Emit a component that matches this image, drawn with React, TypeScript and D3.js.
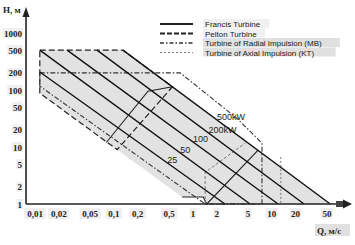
import React from "react";
import * as d3 from "d3";

// ---------- data ----------
const yTicks = [1, 2, 5, 10, 20, 50, 100, 200, 500, 1000];
const yTickLabels = ["1", "2", "5", "10", "20", "50", "100", "200", "500", "1000"];
const xTicks = [0.01, 0.02, 0.05, 0.1, 0.2, 0.5, 1, 2, 5, 10, 20, 50];
const xTickLabels = ["0,01", "0,02", "0,05", "0,1", "0,2", "0,5", "1", "2", "5", "10", "20", "50"];

// constant-power lines (kW): start / end points (Q m3/s, H m)
const powerLabels = ["25", "50", "100", "200kW", "500kW"];
const powerStartQ = [0.0115, 0.0115, 0.0255, 0.061, 0.13];
const powerStartH = [207, 500, 500, 500, 500];
const powerEndQ = [2.55, 5.3, 12, 25.6, 55];
const powerEndH = [1, 1, 1, 1, 1];
const powerLabelH = [5.9, 8.85, 13.8, 19.9, 33.6];

// shaded application field
const fieldQ = [0.0115, 0.13, 55, 1.5, 1.35, 0.73, 0.0115];
const fieldH = [500, 500, 1, 1, 1.33, 1.33, 88];

// Pelton turbine boundary
const peltonQ = [0.0115, 0.13, 0.55, 0.11, 0.0115];
const peltonH = [500, 500, 114, 9, 88];

// Francis turbine boundary (two open pieces)
const francisAQ = [0.08, 0.27, 0.55];
const francisAH = [12, 95, 114];
const francisBQ = [0.73, 1.35, 1.5, 6.7];
const francisBH = [1.33, 1.33, 1, 8.8];

// Radial impulsion (MB) boundary
const mbQ = [0.0115, 0.69, 3.6, 7.5, 7.5, 1.43, 0.0115];
const mbH = [200, 200, 32, 11.7, 1, 1, 117];

// Axial impulsion (KT) boundary pieces
const ktAQ = [1.43, 1.43, 4.6];
const ktAH = [1, 3.6, 11.7];
const ktBQ = [13, 13];
const ktBH = [6.7, 1];

const legendNames = [
  "Francis Turbine",
  "Pelton Turbine",
  "Turbine of Radial Impulsion (MB)",
  "Turbine of Axial Impulsion (KT)",
];

// ---------- helpers ----------
const zip = (a: number[], b: number[]): [number, number][] => a.map((v, i) => [v, b[i]]);

export default function App() {
  const x = d3.scaleLog().domain([0.01, 50]).range([35, 327]);
  const y = d3.scaleLog().domain([1, 1000]).range([204, 33]);
  const line = d3
    .line<[number, number]>()
    .x((d) => x(d[0]))
    .y((d) => y(d[1]));
  const closed = (pts: [number, number][]) => line(pts) + "Z";

  const serif = "'Liberation Serif', 'DejaVu Serif', serif";
  const sans = "'Liberation Sans', Arial, sans-serif";

  const legendStyles = [
    { dash: "none", w: 1.8, c: "#222" },
    { dash: "5,2", w: 1.8, c: "#222" },
    { dash: "4,2,1.5,2", w: 1.5, c: "#333" },
    { dash: "2,2", w: 1, c: "#777" },
  ];

  return (
    <svg
      width={355}
      height={245}
      style={{ position: "absolute", left: 0, top: 0, background: "#fff" }}
    >
      {/* shaded field */}
      <path d={closed(zip(fieldQ, fieldH))} fill="#e2e2e2" stroke="none" />

      {/* turbine boundaries */}
      <path d={closed(zip(mbQ, mbH))} fill="none" stroke="#333" strokeWidth={1.1} strokeDasharray="5,2,1.5,2" />
      <path d={closed(zip(peltonQ, peltonH))} fill="none" stroke="#222" strokeWidth={1.2} strokeDasharray="6,3" />
      <path d={line(zip(francisAQ, francisAH)) || ""} fill="none" stroke="#222" strokeWidth={1.1} />
      <path d={line(zip(francisBQ, francisBH)) || ""} fill="none" stroke="#222" strokeWidth={1.1} />
      <path d={line(zip(ktAQ, ktAH)) || ""} fill="none" stroke="#777" strokeWidth={1} strokeDasharray="3,2" />
      <path d={line(zip(ktBQ, ktBH)) || ""} fill="none" stroke="#777" strokeWidth={1} strokeDasharray="2,2" />

      {/* constant power lines */}
      {powerLabels.map((lab, i) => {
        const pts: [number, number][] = [
          [powerStartQ[i], powerStartH[i]],
          [powerEndQ[i], powerEndH[i]],
        ];
        const lh0 = Math.log10(powerStartH[i]);
        const lh1 = Math.log10(powerEndH[i]);
        const t = (lh0 - Math.log10(powerLabelH[i])) / (lh0 - lh1);
        const lq = Math.log10(powerStartQ[i]) + t * (Math.log10(powerEndQ[i]) - Math.log10(powerStartQ[i]));
        const lx = x(Math.pow(10, lq)) + 4;
        const ly = y(powerLabelH[i]) + 3;
        return (
          <g key={lab}>
            <path d={line(pts) || ""} fill="none" stroke="#111" strokeWidth={1.4} />
            <text x={lx} y={ly} fontFamily={sans} fontSize={9} fill="#222">
              {lab}
            </text>
          </g>
        );
      })}

      {/* axes */}
      <line x1={26} y1={204} x2={26} y2={16} stroke="#222" strokeWidth={1.6} />
      <path d="M26,7 L22.5,17 L29.5,17 Z" fill="#222" />
      <line x1={26} y1={204} x2={338} y2={204} stroke="#222" strokeWidth={1.6} />
      <rect x={336} y={201} width={8} height={6} fill="#444" />
      <path d="M352,204 L343,199.5 L343,208.5 Z" fill="#222" />

      {/* y tick labels */}
      {yTicks.map((v, i) => (
        <g key={"y" + v}>
          <rect x={21 - yTickLabels[i].length * 4.6} y={y(v) - 5} width={yTickLabels[i].length * 4.6 + 2} height={10} fill="#efefef" />
          <text x={22} y={y(v) + 3.5} textAnchor="end" fontFamily={serif} fontWeight="bold" fontSize={9} fill="#222">
            {yTickLabels[i]}
          </text>
        </g>
      ))}

      {/* x tick labels */}
      {xTicks.map((v, i) => (
        <g key={"x" + v}>
          <rect x={x(v) - xTickLabels[i].length * 2.4 - 1} y={208} width={xTickLabels[i].length * 4.8 + 2} height={11} fill="#efefef" />
          <text x={x(v)} y={217} textAnchor="middle" fontFamily={serif} fontWeight="bold" fontSize={9} fill="#222">
            {xTickLabels[i]}
          </text>
        </g>
      ))}

      {/* axis titles */}
      <text x={3} y={13} fontFamily={serif} fontWeight="bold" fontSize={9} fill="#222">
        H, м
      </text>
      <rect x={315} y={224} width={35} height={12} fill="#e0e0e0" />
      <text x={317} y={234} fontFamily={serif} fontWeight="bold" fontSize={9} fill="#222">
        Q, м/с
      </text>

      {/* legend */}
      {legendNames.map((name, i) => {
        const ly = 24 + i * 9.5;
        const st = legendStyles[i];
        return (
          <g key={name}>
            <rect x={203} y={ly - 5} width={name.length * 4.15 + 4} height={9} fill={i >= 2 ? "#e0e0e0" : "#f0f0f0"} />
            <line x1={160} y1={ly} x2={193} y2={ly} stroke={st.c} strokeWidth={st.w} strokeDasharray={st.dash} />
            <text x={205} y={ly + 3} fontFamily={sans} fontSize={8} fill="#222">
              {name}
            </text>
          </g>
        );
      })}
    </svg>
  );
}
